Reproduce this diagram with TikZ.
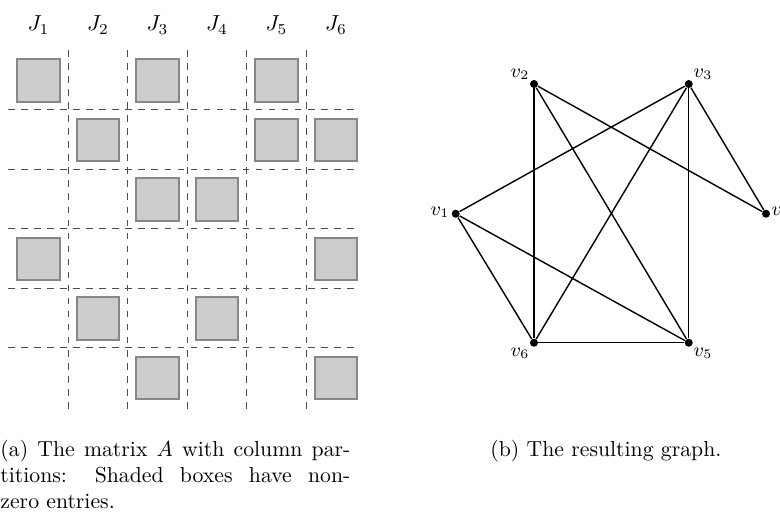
\documentclass[tikz,border=0pt]{standalone}
\begin{document}
\begin{tikzpicture}[x=0.46pt,y=-0.46pt,
  cellbox/.style={draw=black!47,fill=black!20,line width=0.8pt,minimum size=19.6pt,inner sep=0pt},
  grid/.style={draw=black!70,dashed,line width=0.45pt},
  vtx/.style={circle,fill=black,inner sep=0pt,minimum size=3.7pt},
  edge/.style={line width=0.65pt},
  vlab/.style={font=\small,inner sep=1pt}]
\useasboundingbox (0,0) rectangle (780,521);
% column labels
\foreach \j in {1,...,6}
  \node (J\j) at ({38.5+(\j-1)*59.5},25) {$J_{\j}$};
% dashed grid
\foreach \k in {0,...,4} {
  \coordinate (vt\k) at ({68.25+\k*59.5},50);
  \coordinate (vb\k) at ({68.25+\k*59.5},410);
  \draw[grid] (vt\k) -- (vb\k);
  \coordinate (hl\k) at (8,{109.5+\k*59.5});
  \coordinate (hr\k) at (358,{109.5+\k*59.5});
  \draw[grid] (hl\k) -- (hr\k);
}
% shaded boxes (row, column)
\foreach \r/\c in {1/1,1/3,1/5,2/2,2/5,2/6,3/3,3/4,4/1,4/6,5/2,5/4,6/3,6/6}
  \node[cellbox] (b\r\c) at ({38.5+(\c-1)*59.5},{80.5+(\r-1)*59.5}) {};
% graph
\node[vtx] (v1) at (455.7,213.7) {};
\node[vtx] (v2) at (534,84) {};
\node[vtx] (v3) at (688.7,84) {};
\node[vtx] (v4) at (766,213.7) {};
\node[vtx] (v5) at (688.7,342.7) {};
\node[vtx] (v6) at (534,342.7) {};
\node[vlab,anchor=east] (l1) at (452,212) {$v_1$};
\node[vlab,anchor=south east] (l2) at (532,82) {$v_2$};
\node[vlab,anchor=south west] (l3) at (691,82) {$v_3$};
\node[vlab,anchor=west] (l4) at (769,212) {$v_4$};
\node[vlab,anchor=north west] (l5) at (691,345) {$v_5$};
\node[vlab,anchor=north east] (l6) at (532,345) {$v_6$};
\foreach \a/\b in {2/6,2/5,2/4,3/1,3/6,3/5,3/4,1/6,1/5,6/5}
  \draw[edge] (v\a) -- (v\b);
% captions
\node[anchor=north west,inner sep=0pt,text width=161pt,align=justify] (capa) at (0,440)
  {(a) The matrix $A$ with column par-\linebreak titions: Shaded boxes have non-\linebreak zero entries.};
\node[anchor=base west,inner sep=0pt] (capb) at (490,456) {(b) The resulting graph.};
\end{tikzpicture}
\end{document}
